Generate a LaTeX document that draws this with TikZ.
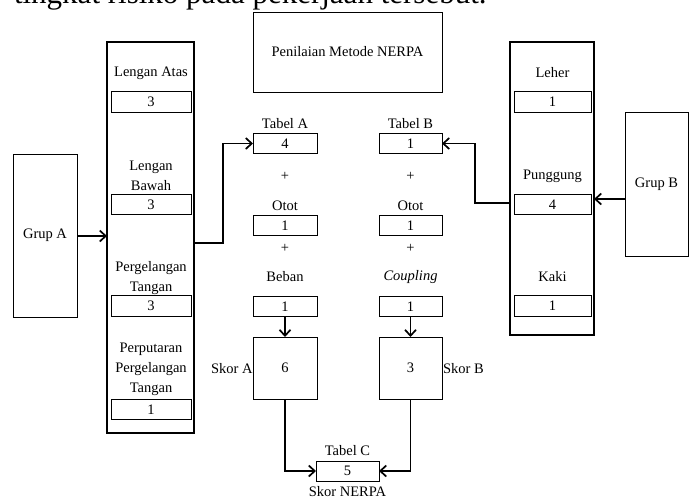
\documentclass[tikz,border=0pt]{standalone}
\usepackage{fontspec}
\setmainfont{Liberation Serif}
\usetikzlibrary{arrows.meta}
\begin{document}
\begin{tikzpicture}[x=1pt,y=-1pt,
  every node/.style={inner sep=0pt, outer sep=0pt, font=\fontsize{14.5}{20}\selectfont},
  lbl/.style={align=center},
  panel/.style={draw, line width=2.4pt},
  thinbox/.style={draw, line width=1pt},
  valbox/.style={draw, line width=1pt, minimum height=20.5pt},
  conn/.style={line width=1.7pt, -{Straight Barb[length=6pt,width=11pt,line width=1.7pt]}}]
\useasboundingbox (0,0) rectangle (695,499);
\clip (0,0) rectangle (695,499);
\fill[white] (0,0) rectangle (695,499);
% cropped text line at the top
\node[anchor=base west, font=\fontsize{31}{31}\selectfont] (top) at (14,3.5) {tingkat risiko pada pekerjaan tersebut.};
% title box
\node[thinbox, minimum width=189pt, minimum height=80pt] (title) at (347.5,52) {};
\node[lbl] (titletxt) at (347.5,52) {Penilaian Metode NERPA};
% group boxes
\node[thinbox, minimum width=64pt, minimum height=163pt] (ga) at (45,235.5) {Grup A};
\node[thinbox, minimum width=63pt, minimum height=144pt] (gb) at (656.5,184) {Grup B};
% panel A
\node[panel, minimum width=87pt, minimum height=391pt] (pa) at (150.5,237.5) {};
\node[lbl] (la1) at (151,73) {Lengan Atas};
\node[valbox, minimum width=80pt] (a1) at (151,102) {3};
\node[lbl] (la2) at (151,175.5) {Lengan\\Bawah};
\node[valbox, minimum width=80pt] (a2) at (151,204.5) {3};
\node[lbl] (la3) at (151,278) {Pergelangan\\Tangan};
\node[valbox, minimum width=80pt] (a3) at (151,306) {3};
\node[lbl] (la4) at (151,369.5) {Perputaran\\Pergelangan\\Tangan};
\node[valbox, minimum width=80pt] (a4) at (151,409.5) {1};
% panel B
\node[panel, minimum width=84pt, minimum height=293pt] (pb) at (552,188.5) {};
\node[lbl] (lb1) at (552.5,73) {Leher};
\node[valbox, minimum width=77pt] (b1) at (552.5,102) {1};
\node[lbl] (lb2) at (552.5,176) {Punggung};
\node[valbox, minimum width=77pt] (b2) at (552.5,204.5) {4};
\node[lbl] (lb3) at (552.5,277) {Kaki};
\node[valbox, minimum width=77pt] (b3) at (552.5,306) {1};
% column A
\node[lbl] (lta) at (285,124) {Tabel A};
\node[valbox, minimum width=64pt] (ta) at (285,143.5) {4};
\node[lbl] (pa1) at (285,176) {+};
\node[lbl] (loa) at (285,206) {Otot};
\node[valbox, minimum width=64pt] (oa) at (285,225.5) {1};
\node[lbl] (pa2) at (285,248) {+};
\node[lbl] (lba) at (285,277) {Beban};
\node[valbox, minimum width=64pt] (ba) at (285,306.5) {1};
\node[thinbox, minimum width=64pt, minimum height=62pt] (sa) at (285,368) {6};
\node[anchor=east] (lsa) at (252.5,369) {Skor A};
% column B
\node[lbl] (ltb) at (410.5,124) {Tabel B};
\node[valbox, minimum width=63pt] (tb) at (410.5,143.5) {1};
\node[lbl] (pb1) at (410.5,176) {+};
\node[lbl] (lob) at (410.5,206) {Otot};
\node[valbox, minimum width=63pt] (ob) at (410.5,225.5) {1};
\node[lbl] (pb2) at (410.5,248) {+};
\node[lbl] (lcb) at (410.5,277) {\itshape Coupling};
\node[valbox, minimum width=63pt] (cb) at (410.5,306.5) {1};
\node[thinbox, minimum width=63pt, minimum height=62pt] (sb) at (410.5,368) {3};
\node[anchor=west] (lsb) at (443,369) {Skor B};
% table C
\node[lbl] (ltc) at (347.5,451) {Tabel C};
\node[valbox, minimum width=63pt, minimum height=20pt] (tc) at (347.5,471) {5};
\node[lbl] (lsn) at (347.5,492) {Skor NERPA};
% junction coordinates
\coordinate (jga) at (0,236);
\coordinate (jA) at (223,243);
\coordinate (jgb) at (0,199);
\coordinate (jB) at (475,203);
% connectors
\draw[conn] (ga.east |- jga) -- (pa.west |- jga);
\draw[conn] (pa.east |- jA) -- (jA) |- (ta.west);
\draw[conn] (gb.west |- jgb) -- (pb.east |- jgb);
\draw[conn] (pb.west |- jB) -- (jB) |- (tb.east);
\draw[conn] (ba.south) -- (sa.north);
\draw[conn] (cb.south) -- (sb.north);
\draw[conn] (sa.south) |- (tc.west);
\draw[conn] (sb.south) |- (tc.east);
\end{tikzpicture}
\end{document}
